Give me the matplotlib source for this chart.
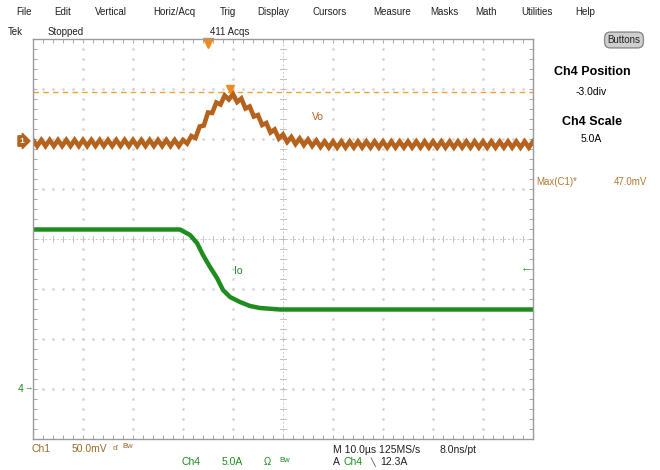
import matplotlib
matplotlib.use("Agg")
import matplotlib.pyplot as plt
import numpy as np

plt.rcParams['font.family'] = ['Liberation Sans', 'DejaVu Sans']

# Ch1 (Vo) trace, vertical position in divisions, sampled every 1/12 div
vo_div = [
    1.98, 1.86, 1.98, 1.86, 1.98, 1.86, 1.98, 1.86, 1.98, 1.86,
    1.98, 1.86, 1.98, 1.86, 1.98, 1.86, 1.98, 1.86, 1.98, 1.86,
    1.98, 1.86, 1.98, 1.86, 1.98, 1.86, 1.98, 1.86, 1.98, 1.86,
    1.98, 1.86, 1.98, 1.86, 1.98, 1.86,
    1.98, 1.91, 2.06, 2.02, 2.25, 2.27, 2.53, 2.52, 2.73, 2.69,
    2.87, 2.79, 2.90, 2.74, 2.81, 2.61, 2.65, 2.45, 2.48, 2.28,
    2.32, 2.13, 2.19, 2.01, 2.09, 1.94, 2.04, 1.90, 2.01, 1.88,
    1.99, 1.86, 1.97, 1.84,
    1.95, 1.83, 1.95, 1.83, 1.95, 1.83, 1.95, 1.83, 1.95, 1.83,
    1.95, 1.83, 1.95, 1.83, 1.95, 1.83, 1.95, 1.83, 1.95, 1.83,
    1.95, 1.83, 1.95, 1.83, 1.95, 1.83, 1.95, 1.83, 1.95, 1.83,
    1.95, 1.83, 1.95, 1.83, 1.95, 1.83, 1.95, 1.83, 1.95, 1.83,
    1.95, 1.83, 1.95, 1.83, 1.95, 1.83, 1.95, 1.83, 1.95, 1.83,
    1.95,
]

# Ch4 (Io) trace, time (div) and vertical position (div)
io_t = [0.0, 2.94, 3.14, 3.28, 3.40, 3.54, 3.68, 3.80, 3.94, 4.14, 4.34, 4.54, 4.94, 10.0]
io_div = [0.19, 0.19, 0.08, -0.08, -0.32, -0.56, -0.78, -1.02, -1.16, -1.26, -1.34, -1.38, -1.41, -1.41]

ch1_ref = 1.96
ch4_ref = -3.0
trig_pos = 3.5
trig_level = -0.56
max_cursor = 2.94
max_pos = 3.94

menu = ["File", "Edit", "Vertical", "Horiz/Acq", "Trig", "Display",
        "Cursors", "Measure", "Masks", "Math", "Utilities", "Help"]
menu_x = [24, 63, 111, 174, 228, 273, 330, 392, 444, 486, 537, 585]

brown = '#b5621c'
green = '#1e8c1e'
W, H = 660, 470

fig = plt.figure(figsize=(6.6, 4.7), dpi=100)
fig.patch.set_facecolor('white')
ax = fig.add_axes([33 / W, (H - 439) / H, 500 / W, 400 / H])
ax.set_xlim(0, 10)
ax.set_ylim(-4, 4)

def ftext(px, py, s, **kw):
    fig.text(px / W, 1 - py / H, s, **kw)

# graticule
for sp in ax.spines.values():
    sp.set_color('#9a9a9a')
    sp.set_linewidth(1)
ax.set_xticks(np.arange(0, 10.01, 0.2))
ax.set_yticks(np.arange(-4, 4.01, 0.2))
ax.set_xticklabels([])
ax.set_yticklabels([])
ax.tick_params(direction='in', length=3, width=0.6, color='#9a9a9a',
               top=True, right=True)

dots_c = '#d2d2d2'
for gx in range(1, 10):
    if gx == 5:
        continue
    yy = np.arange(-4, 4.01, 0.2)
    ax.plot(np.full_like(yy, gx), yy, ls='none', marker='s', ms=0.8, color=dots_c)
for gy in range(-3, 4):
    if gy == 0:
        continue
    xx = np.arange(0, 10.01, 0.2)
    ax.plot(xx, np.full_like(xx, gy), ls='none', marker='s', ms=0.8, color=dots_c)
ax.axhline(0, color='#cccccc', lw=0.7, ls=(0, (2, 2)))
ax.axvline(5, color='#cccccc', lw=0.7, ls=(0, (2, 2)))
for m in np.arange(0, 10.01, 0.2):
    ax.plot([m, m], [-0.06, 0.06], color='#b8b8b8', lw=0.6)
for m in np.arange(-4, 4.01, 0.2):
    ax.plot([4.94, 5.06], [m, m], color='#b8b8b8', lw=0.6)

# cursor
ax.axhline(max_cursor, color='#f0a040', lw=1, ls=(0, (4, 3)))

# traces
t_div = np.linspace(0, 10, len(vo_div))
ax.plot(t_div, vo_div, color=brown, lw=3.3, solid_joinstyle='miter')
ax.plot(io_t, io_div, color=green, lw=3.2)

ax.text(5.7, 2.44, 'Vo', color=brown, fontsize=7.5, ha='center', va='center')
ax.text(4.1, -0.64, 'Io', color=green, fontsize=7.5, ha='center', va='center')

# markers
ax.plot(trig_pos, 3.92, marker='v', color='#f08a20', ms=7, clip_on=False)
ax.plot(max_pos, 3.0, marker='v', color='#f08a20', ms=6, clip_on=False)
ax.text(-0.22, ch1_ref, '1', color='white', fontsize=6, fontweight='bold',
        ha='center', va='center', clip_on=False,
        bbox=dict(boxstyle='rarrow,pad=0.2', fc=brown, ec=brown))
ax.text(-0.24, ch4_ref, '4', color=green, fontsize=7.5, ha='center', va='center',
        clip_on=False)
ax.text(-0.1, ch4_ref, '\u2192', color=green, fontsize=6, ha='center', va='center',
        clip_on=False)
ax.text(9.86, trig_level, '\u2190', color=green, fontsize=8, ha='center', va='center',
        clip_on=False)

# menu bar
for s, x in zip(menu, menu_x):
    ftext(x, 12, s, fontsize=7, ha='center', va='center', color='#202020')
ftext(8, 32, 'Tek', fontsize=7, va='center', color='#202020')
ftext(48, 32, 'Stopped', fontsize=7, va='center', color='#202020')
ftext(230, 32, '411 Acqs', fontsize=7, ha='center', va='center', color='#202020')
ftext(624, 40, 'Buttons', fontsize=7, ha='center', va='center', color='#202020',
      bbox=dict(boxstyle='round,pad=0.3,rounding_size=0.6', fc='#cfcfcf', ec='#8a8a8a'))

# right panel
ftext(592, 72, 'Ch4 Position', fontsize=9, fontweight='bold', ha='center', va='center')
ftext(591, 92, '-3.0div', fontsize=7.5, ha='center', va='center')
ftext(592, 122, 'Ch4 Scale', fontsize=9, fontweight='bold', ha='center', va='center')
ftext(591, 139, '5.0A', fontsize=7.5, ha='center', va='center')
ftext(536, 182, 'Max(C1)*', fontsize=7, va='center', color='#b07a30')
ftext(614, 182, '47.0mV', fontsize=7, va='center', color='#b07a30')

# bottom status
ch1c = '#9a6a28'
ftext(32, 449, 'Ch1', fontsize=7.5, va='center', color=ch1c)
ftext(72, 449, '50.0mV', fontsize=7.5, va='center', color=ch1c)
ftext(113, 449, '\u0257', fontsize=6, va='center', color=ch1c)
ftext(122, 447, 'Bw', fontsize=5.5, va='center', color=ch1c)
ftext(182, 462, 'Ch4', fontsize=7.5, va='center', color=green)
ftext(222, 462, '5.0A', fontsize=7.5, va='center', color=green)
ftext(264, 462, '\u03a9', fontsize=7, va='center', color=green)
ftext(279, 460, 'Bw', fontsize=5.5, va='center', color=green)
ftext(333, 450, 'M 10.0\u00b5s 125MS/s', fontsize=7.5, va='center', color='#202020')
ftext(440, 450, '8.0ns/pt', fontsize=7.5, va='center', color='#202020')
ftext(333, 462, 'A', fontsize=7.5, va='center', color='#202020')
ftext(343, 462, 'Ch4', fontsize=7.5, va='center', color=green)
ftext(370, 462, '\u2572', fontsize=5.5, va='center', color='#202020')
ftext(380, 462, '12.3A', fontsize=7.5, va='center', color='#202020')

fig.savefig('out.png', dpi=100, facecolor='white')
